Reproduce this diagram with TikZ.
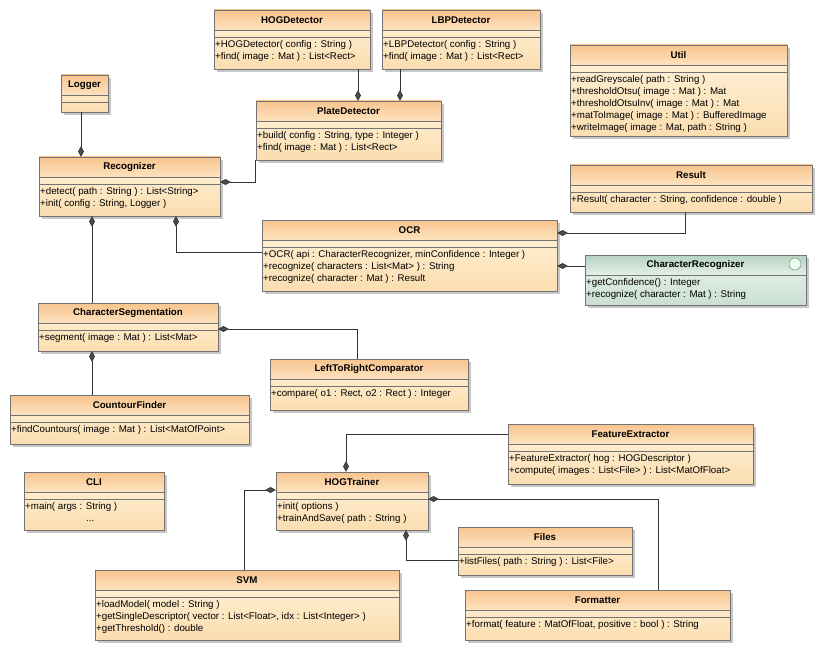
\documentclass[tikz,border=0pt]{standalone}
\usepackage{fontspec}
\setmainfont{Liberation Sans}
\usetikzlibrary{arrows.meta,fit}

\definecolor{headtop-orange}{HTML}{F8C48E}
\definecolor{headbot-orange}{HTML}{FDE3BF}
\definecolor{bodytop-orange}{HTML}{FFF4DC}
\definecolor{bodybot-orange}{HTML}{FBDDB0}
\definecolor{headtop-green}{HTML}{B5D3C2}
\definecolor{headbot-green}{HTML}{E4EFE8}
\definecolor{bodytop-green}{HTML}{EEF5F1}
\definecolor{bodybot-green}{HTML}{C9DFD2}
\def\attrorange{7}
\def\attrgreen{0}

% one class box: [scheme]{name}{x1}{y1}{x2}{y2}{title}{methods}
\newcommand{\umlclass}[8][orange]{%
  \edef\attrh{\csname attr#1\endcsname}%
  \fill[black!22] (#3+3,#4+3) rectangle (#5+3,#6+3);
  \shade[top color=bodytop-#1,bottom color=bodybot-#1] (#3,#4) rectangle (#5,#6);
  \shade[top color=headtop-#1,bottom color=headbot-#1] (#3,#4) rectangle (#5,#4+20);
  \draw[class line] (#3,#4) rectangle (#5,#6);
  \draw[class line] (#3,#4+20) -- (#5,#4+20);
  \draw[class line] (#3,#4+20+\attrh) -- (#5,#4+20+\attrh);
  \node[class title] at ({(#3+#5)/2},#4+10) {#7};
  \node[class ops] at (#3+1,#4+23+\attrh) {#8};
  \node[fit={(#3,#4) (#5,#6)},inner sep=0pt] (#2) {};
}

\begin{document}
\begin{tikzpicture}[x=0.03cm,y=-0.03cm,
    class line/.style={draw=black!55,line width=0.5pt},
    class title/.style={font=\fontsize{8.3}{9}\selectfont\bfseries},
    class ops/.style={anchor=north west,inner sep=0pt,align=left,
                      font=\fontsize{8.3}{10.2}\selectfont},
    part/.style={draw=black!80,line width=0.6pt,
                 -{Diamond[fill=black!70,length=9pt,width=5pt]}}]

  \useasboundingbox (0,0) rectangle (822,652);

  \umlclass{hogdet}{214}{10}{370}{69}{HOGDetector}{+HOGDetector( config : String )\\+find( image : Mat ) : List<Rect>}
  \umlclass{lbpdet}{382}{10}{540}{69}{LBPDetector}{+LBPDetector( config : String )\\+find( image : Mat ) : List<Rect>}
  \umlclass{logger}{61}{75}{108}{112}{Logger}{}
  \umlclass{platedet}{256}{101}{441}{160}{PlateDetector}{+build( config : String, type : Integer )\\+find( image : Mat ) : List<Rect>}
  \umlclass{util}{570}{45}{787}{136}{Util}{+readGreyscale( path : String )\\+thresholdOtsu( image : Mat ) : Mat\\+thresholdOtsuInv( image : Mat ) : Mat\\+matToImage( image : Mat ) : BufferedImage\\+writeImage( image : Mat, path : String )}
  \umlclass{recognizer}{39}{157}{220}{216}{Recognizer}{+detect( path : String ) : List<String>\\+init( config : String, Logger )}
  \umlclass{result}{570}{165}{812}{212}{Result}{+Result( character : String, confidence : double )}
  \umlclass{ocr}{262}{220}{557}{291}{OCR}{+OCR( api : CharacterRecognizer, minConfidence : Integer )\\+recognize( characters : List<Mat> ) : String\\+recognize( character : Mat ) : Result}
  \umlclass[green]{charrec}{585}{255}{806}{305}{CharacterRecognizer}{+getConfidence() : Integer\\+recognize( character : Mat ) : String}
  \draw[black!50,fill=green!8] (795,264) circle (6);
  \umlclass{charseg}{38}{303}{218}{351}{CharacterSegmentation}{+segment( image : Mat ) : List<Mat>}
  \umlclass{ltrcomp}{270}{359}{468}{410}{LeftToRightComparator}{+compare( o1 : Rect, o2 : Rect ) : Integer}
  \umlclass{contour}{10}{395}{249}{444}{CountourFinder}{+findCountours( image : Mat ) : List<MatOfPoint>}
  \umlclass{featext}{508}{424}{753}{484}{FeatureExtractor}{+FeatureExtractor( hog : HOGDescriptor )\\+compute( images : List<File> ) : List<MatOfFloat>}
  \umlclass{cli}{24}{472}{164}{530}{CLI}{+main( args : String )\\\hspace*{52pt}...}
  \umlclass{hogtrain}{276}{472}{428}{530}{HOGTrainer}{+init( options )\\+trainAndSave( path : String )}
  \umlclass{files}{458}{527}{632}{575}{Files}{+listFiles( path : String ) : List<File>}
  \umlclass{svm}{95}{570}{399}{640}{SVM}{+loadModel( model : String )\\+getSingleDescriptor( vector : List<Float>, idx : List<Integer> )\\+getThreshold() : double}
  \umlclass{formatter}{465}{590}{730}{640}{Formatter}{+format( feature : MatOfFloat, positive : bool ) : String}

  \draw[part] (hogdet.south -| 358,0) -- (platedet.north -| 358,0);
  \draw[part] (lbpdet.south -| 400,0) -- (platedet.north -| 400,0);
  \draw[part] (logger.south -| 81,0) -- (recognizer.north -| 81,0);
  \draw[part] (platedet.south west) |- (recognizer.east |- 0,182);
  \draw[part] (ocr.west |- 0,252) -| (recognizer.south -| 176,0);
  \draw[part] (charseg.north -| 92,0) -- (recognizer.south -| 92,0);
  \draw[part] (result.south -| 685,0) |- (ocr.east |- 0,233);
  \draw[part] (charrec.west |- 0,266) -- (ocr.east |- 0,266);
  \draw[part] (ltrcomp.north -| 357,0) |- (charseg.east |- 0,329);
  \draw[part] (contour.north -| 92,0) -- (charseg.south -| 92,0);
  \draw[part] (featext.west |- 0,434) -| (hogtrain.north -| 346,0);
  \draw[part] (svm.north -| 244,0) |- (hogtrain.west |- 0,490);
  \draw[part] (formatter.north -| 658,0) |- (hogtrain.east |- 0,499);
  \draw[part] (files.west |- 0,560) -| (hogtrain.south -| 406,0);

\end{tikzpicture}
\end{document}
